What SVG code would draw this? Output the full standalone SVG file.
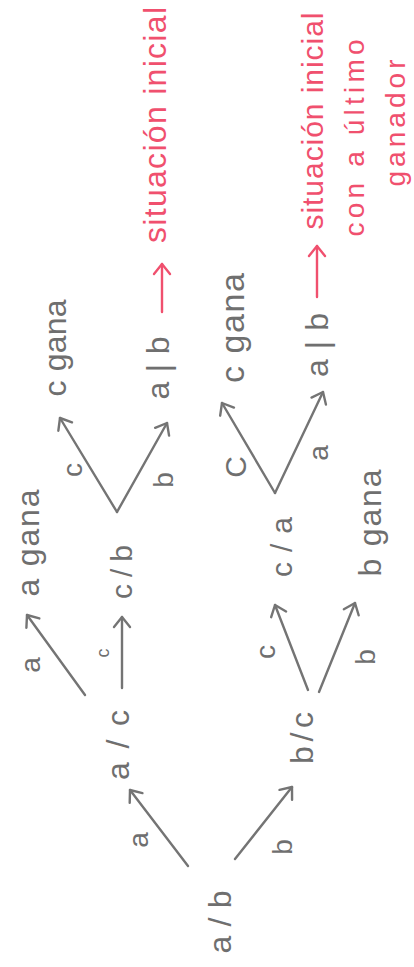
<svg xmlns="http://www.w3.org/2000/svg" width="414" height="967" viewBox="0 0 414 967">
  <style>
    .pen { fill: #6f6f6f; font-family: "Liberation Sans", "DejaVu Sans", sans-serif; text-anchor: middle; dominant-baseline: central; }
    .red { fill: #f0506e; font-family: "Liberation Sans", "DejaVu Sans", sans-serif; text-anchor: middle; dominant-baseline: central; }
    .edge { stroke: #747474; stroke-width: 2.4; fill: none; stroke-linecap: round; }
    .redge { stroke: #f0506e; stroke-width: 2.4; fill: none; stroke-linecap: round; }
  </style>
  <defs>
    <marker id="head" markerUnits="userSpaceOnUse" markerWidth="24" markerHeight="24" refX="12" refY="12" orient="auto">
      <path d="M2,4 L12,12 L2,20" fill="none" stroke="#747474" stroke-width="2.4" stroke-linecap="round" stroke-linejoin="round"/>
    </marker>
    <marker id="headRed" markerUnits="userSpaceOnUse" markerWidth="24" markerHeight="24" refX="12" refY="12" orient="auto">
      <path d="M2,4 L12,12 L2,20" fill="none" stroke="#f0506e" stroke-width="2.4" stroke-linecap="round" stroke-linejoin="round"/>
    </marker>
  </defs>
  <rect width="414" height="967" fill="#ffffff"/>

  <!-- connectors -->
  <g id="connectors">
    <line class="edge" x1="188" y1="866" x2="130" y2="790" marker-end="url(#head)"/>
    <line class="edge" x1="235" y1="859" x2="292" y2="787" marker-end="url(#head)"/>
    <line class="edge" x1="85" y1="695" x2="27" y2="615" marker-end="url(#head)"/>
    <line class="edge" x1="122" y1="688" x2="122" y2="617" marker-end="url(#head)"/>
    <line class="edge" x1="117" y1="512" x2="60" y2="418" marker-end="url(#head)"/>
    <line class="edge" x1="117" y1="512" x2="167" y2="423" marker-end="url(#head)"/>
    <line class="edge" x1="308" y1="690" x2="275" y2="605" marker-end="url(#head)"/>
    <line class="edge" x1="319" y1="692" x2="355" y2="603" marker-end="url(#head)"/>
    <line class="edge" x1="275" y1="493" x2="222" y2="403" marker-end="url(#head)"/>
    <line class="edge" x1="275" y1="493" x2="323" y2="392" marker-end="url(#head)"/>
    <line class="redge" x1="162" y1="312" x2="162" y2="264" marker-end="url(#headRed)"/>
    <line class="redge" x1="317" y1="297" x2="317" y2="246" marker-end="url(#headRed)"/>

    <!-- edge labels -->
    <text class="pen" font-size="28" transform="translate(138,840) rotate(-90)">a</text>
    <text class="pen" font-size="28" transform="translate(282,847) rotate(-90)">b</text>
    <text class="pen" font-size="28" transform="translate(30,665) rotate(-90)">a</text>
    <text class="pen" font-size="18" transform="translate(103,653) rotate(-90)">c</text>
    <text class="pen" font-size="28" transform="translate(72,470) rotate(-90)">c</text>
    <text class="pen" font-size="28" transform="translate(163,480) rotate(-90)">b</text>
    <text class="pen" font-size="28" transform="translate(265,652) rotate(-90)">c</text>
    <text class="pen" font-size="28" transform="translate(365,657) rotate(-90)">b</text>
    <text class="pen" font-size="30" transform="translate(235,467) rotate(-90)">C</text>
    <text class="pen" font-size="28" transform="translate(318,453) rotate(-90)">a</text>
  </g>

  <!-- nodes -->
  <g id="n-ab"><text class="pen" font-size="32" textLength="63" transform="translate(220,922) rotate(-90)">a/b</text></g>
  <g id="n-ac"><text class="pen" font-size="32" textLength="70" transform="translate(118,745) rotate(-90)">a/c</text></g>
  <g id="n-bc"><text class="pen" font-size="32" textLength="52" transform="translate(302,738) rotate(-90)">b/c</text></g>
  <g id="n-a-gana"><text class="pen" font-size="32" textLength="107" transform="translate(28,543) rotate(-90)">a gana</text></g>
  <g id="n-cb"><text class="pen" font-size="30" textLength="54" transform="translate(121,572) rotate(-90)">c/b</text></g>
  <g id="n-c-gana-1"><text class="pen" font-size="32" textLength="97" transform="translate(55,348) rotate(-90)">c gana</text></g>
  <g id="n-a-b-1"><text class="pen" font-size="32" textLength="63" transform="translate(158,368) rotate(-90)">a|b</text></g>
  <g id="n-ca"><text class="pen" font-size="30" textLength="60" transform="translate(281,547) rotate(-90)">c/a</text></g>
  <g id="n-b-gana"><text class="pen" font-size="32" textLength="107" transform="translate(370,523) rotate(-90)">b gana</text></g>
  <g id="n-c-gana-2"><text class="pen" font-size="34" textLength="110" transform="translate(232,328) rotate(-90)">c gana</text></g>
  <g id="n-a-b-2"><text class="pen" font-size="32" textLength="64" transform="translate(317,345) rotate(-90)">a|b</text></g>

  <g id="note-1"><text class="red" font-size="32" textLength="236" transform="translate(155,125) rotate(-90)">situación inicial</text></g>
  <g id="note-2">
    <text class="red" font-size="30" textLength="217" transform="translate(312,121) rotate(-90)">situación inicial</text>
    <text class="red" font-size="28" textLength="197" transform="translate(354,138) rotate(-90)">con a último</text>
    <text class="red" font-size="28" textLength="127" transform="translate(395,123) rotate(-90)">ganador</text>
  </g>
</svg>
